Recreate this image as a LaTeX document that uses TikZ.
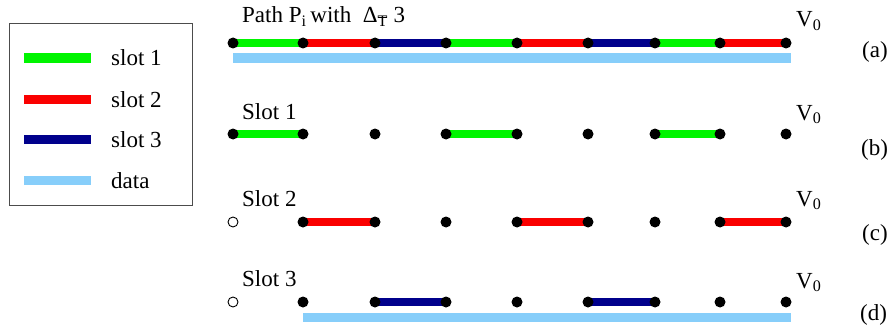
\documentclass[tikz,border=0pt]{standalone}
\usepackage{fontspec}
\setmainfont{Liberation Serif}
\definecolor{sgreen}{RGB}{0,245,0}
\definecolor{sred}{RGB}{250,0,0}
\definecolor{sblue}{RGB}{0,0,140}
\definecolor{sdata}{RGB}{135,206,250}
\newcommand{\barT}{\ooalign{T\cr\hidewidth\raisebox{1.25ex}{\rule{0.55em}{0.9pt}}\hidewidth\cr}}
\begin{document}
\begin{tikzpicture}[x=1pt,y=-1pt,
  dot/.style={circle,fill=black,inner sep=0pt,minimum size=11pt},
  hdot/.style={circle,draw=black,fill=white,line width=0.9pt,inner sep=0pt,minimum size=10pt},
  seg/.style={line width=8pt},
  s1/.style={seg,draw=sgreen},
  s2/.style={seg,draw=sred},
  s3/.style={seg,draw=sblue},
  dat/.style={line width=9pt,draw=sdata},
  lbl/.style={font=\fontsize{23}{25}\selectfont,anchor=base west,inner sep=0pt},
  tag/.style={font=\fontsize{23}{25}\selectfont,anchor=base west,inner sep=0pt}]
\useasboundingbox (0,0) rectangle (893,329);
% legend
\node[draw=black!70,line width=0.8pt,minimum width=183pt,minimum height=182pt,anchor=north west,inner sep=0pt] (leg) at (9,23) {};
\coordinate (l1a) at (24,58); \coordinate (l1b) at (91,58);
\coordinate (l2a) at (24,99); \coordinate (l2b) at (91,99);
\coordinate (l3a) at (24,139); \coordinate (l3b) at (91,139);
\coordinate (l4a) at (24,180); \coordinate (l4b) at (91,180);
\draw[s1,line width=9pt] (l1a) -- (l1b);
\draw[s2,line width=9pt] (l2a) -- (l2b);
\draw[s3,line width=9pt] (l3a) -- (l3b);
\draw[dat] (l4a) -- (l4b);
\node[lbl] (t1) at (111,66) {slot 1};
\node[lbl] (t2) at (111,107) {slot 2};
\node[lbl] (t3) at (111,147) {slot 3};
\node[lbl] (t4) at (111,188) {data};
% x positions
\foreach \r/\y in {a/43,b/134,c/222,d/302}{
  \foreach \i/\x in {1/233,2/303,3/375,4/446,5/517,6/588,7/655,8/720,9/786}{
    \coordinate (\r\i) at (\x,\y);
  }
}
% data bars
\coordinate (da1) at (233,58); \coordinate (da2) at (791,58);
\coordinate (dd1) at (303,317); \coordinate (dd2) at (791,317);
\draw[dat] (da1) -- (da2);
\draw[dat] (dd1) -- (dd2);
% row a
\draw[s1] (a1) -- (a2); \draw[s2] (a2) -- (a3); \draw[s3] (a3) -- (a4);
\draw[s1] (a4) -- (a5); \draw[s2] (a5) -- (a6); \draw[s3] (a6) -- (a7);
\draw[s1] (a7) -- (a8); \draw[s2] (a8) -- (a9);
% row b
\draw[s1] (b1) -- (b2); \draw[s1] (b4) -- (b5); \draw[s1] (b7) -- (b8);
% row c
\draw[s2] (c2) -- (c3); \draw[s2] (c5) -- (c6); \draw[s2] (c8) -- (c9);
% row d
\draw[s3] (d3) -- (d4); \draw[s3] (d6) -- (d7);
% dots
\foreach \i in {1,...,9}{ \node[dot] (na\i) at (a\i) {}; \node[dot] (nb\i) at (b\i) {}; }
\node[hdot] (nc1) at (c1) {};
\node[hdot] (nd1) at (d1) {};
\foreach \i in {2,...,9}{ \node[dot] (nc\i) at (c\i) {}; \node[dot] (nd\i) at (d\i) {}; }
% labels
\node[lbl] (pa) at (242,23) {Path P\textsubscript{i}\,with \ Δ\textsubscript{\barT} 3};
\node[lbl] (pb) at (242,119) {Slot 1};
\node[lbl] (pc) at (242,206) {Slot 2};
\node[lbl] (pd) at (242,286) {Slot 3};
\node[lbl] (va) at (796,27) {V\textsubscript{0}};
\node[lbl] (vb) at (796,120) {V\textsubscript{0}};
\node[lbl] (vc) at (796,206) {V\textsubscript{0}};
\node[lbl] (vd) at (796,288) {V\textsubscript{0}};
\node[tag] (ta) at (862,58) {(a)};
\node[tag] (tb) at (861,155) {(b)};
\node[tag] (tc) at (862,240) {(c)};
\node[tag] (td) at (860,320) {(d)};
\end{tikzpicture}
\end{document}
